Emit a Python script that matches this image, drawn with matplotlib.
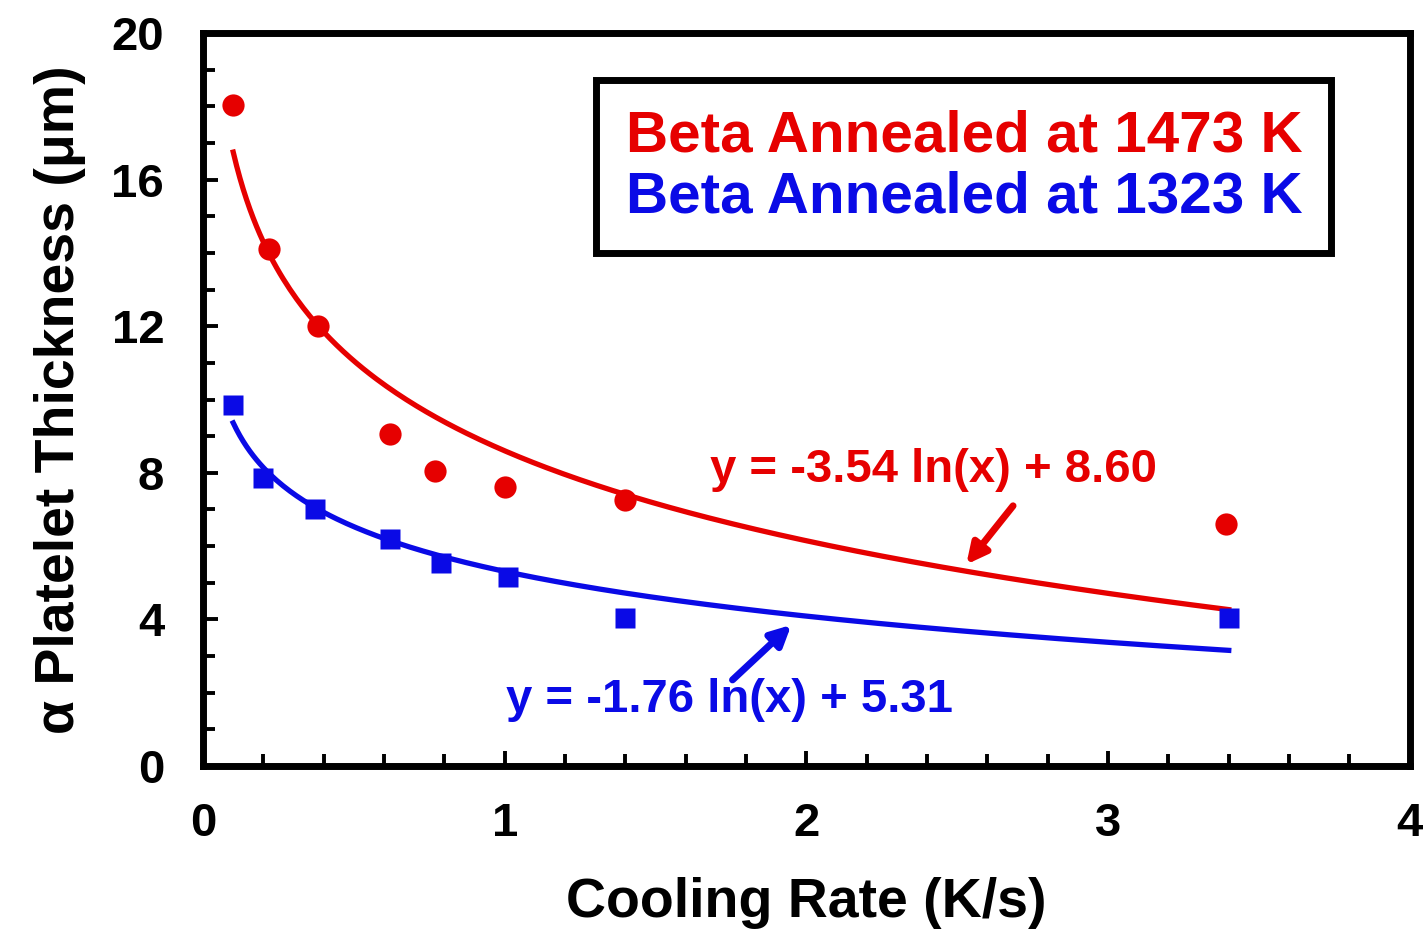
import numpy as np
import matplotlib
matplotlib.use("Agg")
import matplotlib.pyplot as plt
from matplotlib.ticker import MultipleLocator

# Measured alpha platelet thickness vs cooling rate
rate_1473 = [0.10, 0.22, 0.38, 0.62, 0.77, 1.00, 1.40, 3.39]
thick_1473 = [18.05, 14.1, 12.0, 9.05, 8.05, 7.6, 7.25, 6.6]
rate_1323 = [0.10, 0.20, 0.37, 0.62, 0.79, 1.01, 1.40, 3.40]
thick_1323 = [9.85, 7.85, 7.0, 6.2, 5.55, 5.15, 4.05, 4.05]

# Logarithmic fit coefficients y = a ln(x) + b
fit_1473 = (-3.54, 8.60)
fit_1323 = (-1.76, 5.31)
fit_range = (0.1, 3.4)

labels = ["Beta Annealed at 1473 K", "Beta Annealed at 1323 K"]
eq_1473 = "y = -3.54 ln(x) + 8.60"
eq_1323 = "y = -1.76 ln(x) + 5.31"

RED = "#e60000"
BLUE = "#0a0ae6"
FONT = "Liberation Sans"

plt.rcParams["font.family"] = FONT
plt.rcParams["font.weight"] = "bold"

fig = plt.figure(figsize=(14.24, 9.36), dpi=100)
ax = fig.add_axes([0.1426, 0.1816, 0.8474, 0.7831])

xf = np.linspace(*fit_range, 300)
ax.plot(xf, fit_1473[0] * np.log(xf) + fit_1473[1], color=RED, lw=3.8, zorder=2)
ax.plot(xf, fit_1323[0] * np.log(xf) + fit_1323[1], color=BLUE, lw=3.8, zorder=2)

h1, = ax.plot(rate_1473, thick_1473, "o", ms=16, color=RED, mec="none", zorder=3, label=labels[0])
h2, = ax.plot(rate_1323, thick_1323, "s", ms=14.5, color=BLUE, mec="none", zorder=3, label=labels[1])

ax.set_xlim(0, 4)
ax.set_ylim(0, 20)
ax.xaxis.set_major_locator(MultipleLocator(1))
ax.xaxis.set_minor_locator(MultipleLocator(0.2))
ax.yaxis.set_major_locator(MultipleLocator(4))
ax.yaxis.set_minor_locator(MultipleLocator(1))
ax.tick_params(which="both", direction="in", width=2.8, colors="black",
               top=False, right=False)
ax.tick_params(which="major", length=11, labelsize=34, pad=26)
ax.tick_params(which="minor", length=8.5)
ax.tick_params(axis="y", which="major", pad=28)
for lbl in ax.get_xticklabels() + ax.get_yticklabels():
    lbl.set_fontweight("bold")
for sp in ax.spines.values():
    sp.set_linewidth(5)

ax.set_xlabel("Cooling Rate (K/s)", fontsize=40, fontweight="bold", labelpad=22)
ax.set_ylabel("\u03b1 Platelet Thickness (\u03bcm)", fontsize=40, fontweight="bold", labelpad=18)

leg = ax.legend(handles=[h1, h2], loc="upper left", bbox_to_anchor=(0.326, 0.936),
                handlelength=0, handletextpad=0, markerscale=0.001,
                prop={"family": FONT, "weight": "bold", "size": 42},
                frameon=True, fancybox=False, framealpha=1, borderpad=0.5,
                labelspacing=0.12, borderaxespad=0)
leg.get_frame().set_edgecolor("black")
leg.get_frame().set_linewidth(5)
for txt, col in zip(leg.get_texts(), [RED, BLUE]):
    txt.set_color(col)
for hd in leg.legend_handles:
    hd.set_visible(False)

ax.text(1.68, 8.08, eq_1473, color=RED, fontsize=34, fontweight="bold",
        va="center", ha="left")
ax.text(1.005, 1.80, eq_1323, color=BLUE, fontsize=34, fontweight="bold",
        va="center", ha="left")

ax.annotate("", xy=(2.53, 5.5), xytext=(2.685, 7.1),
            arrowprops=dict(arrowstyle="-|>,head_length=1.2,head_width=0.6",
                            color=RED, lw=5, shrinkA=0, shrinkB=0))
ax.annotate("", xy=(1.95, 3.85), xytext=(1.755, 2.35),
            arrowprops=dict(arrowstyle="-|>,head_length=1.2,head_width=0.6",
                            color=BLUE, lw=5, shrinkA=0, shrinkB=0))

fig.savefig("out.png", dpi=100)
